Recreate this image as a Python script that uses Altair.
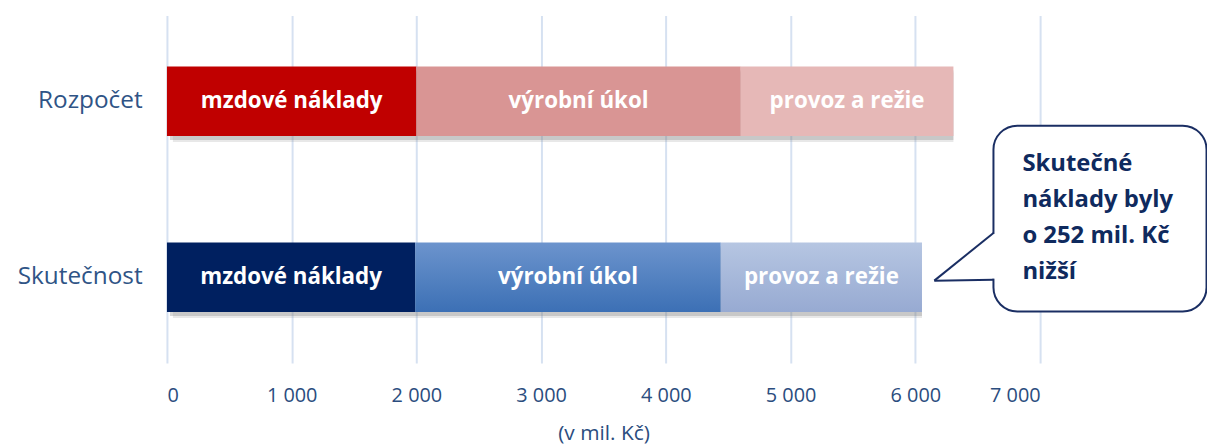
import altair as alt
import pandas as pd

# ---- data ----
categories = ["Rozpočet", "Skutečnost"]
segments = ["mzdové náklady", "výrobní úkol", "provoz a režie"]
rozpocet = [2000, 2600, 1705]
skutecnost = [1990, 2450, 1613]
x_ticks = [0, 1000, 2000, 3000, 4000, 5000, 6000, 7000]
axis_title = "(v mil. Kč)"
callout_text = "Skutečné\nnáklady byly\no 252 mil. Kč\nnižší"

# callout geometry (x in data units, y in pixels of the plot area)
callout_x = [6626, 8334]
callout_y = [111, 298]
tail_tip_x = 6152
tail_y = [219, 267, 266]
callout_text_x = 6858
callout_text_y = 150

rows = []
for cat, vals in zip(categories, [rozpocet, skutecnost]):
    s = 0
    for seg, v in zip(segments, vals):
        rows.append({"series": cat, "segment": seg, "start": s, "end": s + v, "mid": s + v / 2})
        s += v
df = pd.DataFrame(rows)
tot = df.groupby("series", as_index=False)["end"].max()
tot["start"] = 0


def grad(top, bottom):
    return {"gradient": "linear", "x1": 0, "y1": 0, "x2": 0, "y2": 1,
            "stops": [{"offset": 0, "color": top}, {"offset": 1, "color": bottom}]}


fills = {
    ("Rozpočet", "mzdové náklady"): "#c00000",
    ("Rozpočet", "výrobní úkol"): "#d99594",
    ("Rozpočet", "provoz a režie"): "#e6b8b7",
    ("Skutečnost", "mzdové náklady"): "#002060",
    ("Skutečnost", "výrobní úkol"): grad("#6c94cd", "#3c70b5"),
    ("Skutečnost", "provoz a režie"): grad("#b6c6e2", "#97aad2"),
}

FONT = "Open Sans"
xscale = alt.Scale(domain=[0, 7000], nice=False, zero=False)
xaxis = alt.Axis(
    values=x_ticks, grid=True, gridColor="#d6e1f1", gridWidth=2, domain=False, ticks=False,
    labelExpr="replace(format(datum.value, ','), ',', ' ')", labelFont=FONT, labelFontSize=20,
    labelColor="#2b4d7e", labelPadding=23, title=axis_title, titleFont=FONT, titleFontSize=21,
    titleFontWeight="normal", titleColor="#2b4d7e", titlePadding=17,
)
yscale = alt.Scale(domain=categories, paddingInner=0.6045, paddingOuter=0.291)
yaxis = alt.Axis(title=None, domain=False, ticks=False, grid=False, labelFont=FONT,
                 labelFontSize=24.5, labelColor="#2f5486", labelPadding=25)


def X(f):
    return alt.X(f + ":Q", scale=xscale, axis=xaxis)


Y = alt.Y("series:N", sort=categories, scale=yscale, axis=yaxis)

base = alt.Chart(df)
layers = []
# shadows
shadow = alt.Chart(tot)
layers.append(shadow.mark_bar(color="#7f7f7f", opacity=0.18, xOffset=6, yOffset=6).encode(x=X("start"), x2="end", y=Y))
layers.append(shadow.mark_bar(color="#7f7f7f", opacity=0.3, xOffset=3, yOffset=4).encode(x=X("start"), x2="end", y=Y))

for (cat, seg), fill in fills.items():
    layers.append(
        base.transform_filter((alt.datum.series == cat) & (alt.datum.segment == seg))
        .mark_bar(color=fill)
        .encode(x=X("start"), x2="end", y=Y)
    )

layers.append(
    base.mark_text(color="white", fontWeight="bold", fontSize=22.5, font=FONT)
    .encode(x=X("mid"), y=Y, text="segment:N")
)

# callout
cdf = pd.DataFrame({"x": [callout_x[0]], "x2": [callout_x[1]], "tip": [tail_tip_x], "tx": [callout_text_x]})
cb = alt.Chart(cdf)
layers.append(cb.mark_rect(color="#7f7f7f", opacity=0.35, cornerRadius=24, xOffset=4, yOffset=4)
              .encode(x=X("x"), x2="x2", y=alt.value(callout_y[0]), y2=alt.value(callout_y[1])))
layers.append(cb.mark_rect(fill="white", stroke="#1a2e63", strokeWidth=2, cornerRadius=24)
              .encode(x=X("x"), x2="x2", y=alt.value(callout_y[0]), y2=alt.value(callout_y[1])))
layers.append(cb.mark_rule(color="white", strokeWidth=4)
              .encode(x=X("x"), y=alt.value(tail_y[0] + 1), y2=alt.value(tail_y[2] - 1)))
layers.append(cb.mark_rule(color="#1a2e63", strokeWidth=2)
              .encode(x=X("x"), x2="tip", y=alt.value(tail_y[0]), y2=alt.value(tail_y[1])))
layers.append(cb.mark_rule(color="#1a2e63", strokeWidth=2)
              .encode(x=X("tip"), x2="x", y=alt.value(tail_y[1]), y2=alt.value(tail_y[2])))
layers.append(cb.mark_text(text=callout_text, lineBreak="\n", lineHeight=36, align="left", baseline="middle",
                           font=FONT, fontSize=24, fontWeight="bold", color="#0f2a5e")
              .encode(x=X("tx"), y=alt.value(callout_text_y)))

chart = (
    alt.layer(*layers)
    .properties(width=879, height=350,
                autosize=alt.AutoSizeParams(type="none"),
                padding={"left": 160, "top": 6, "right": 168, "bottom": 82})
    .configure_view(stroke=None)
)

chart.save("out.html", embed_options={"renderer": "svg", "actions": False})
